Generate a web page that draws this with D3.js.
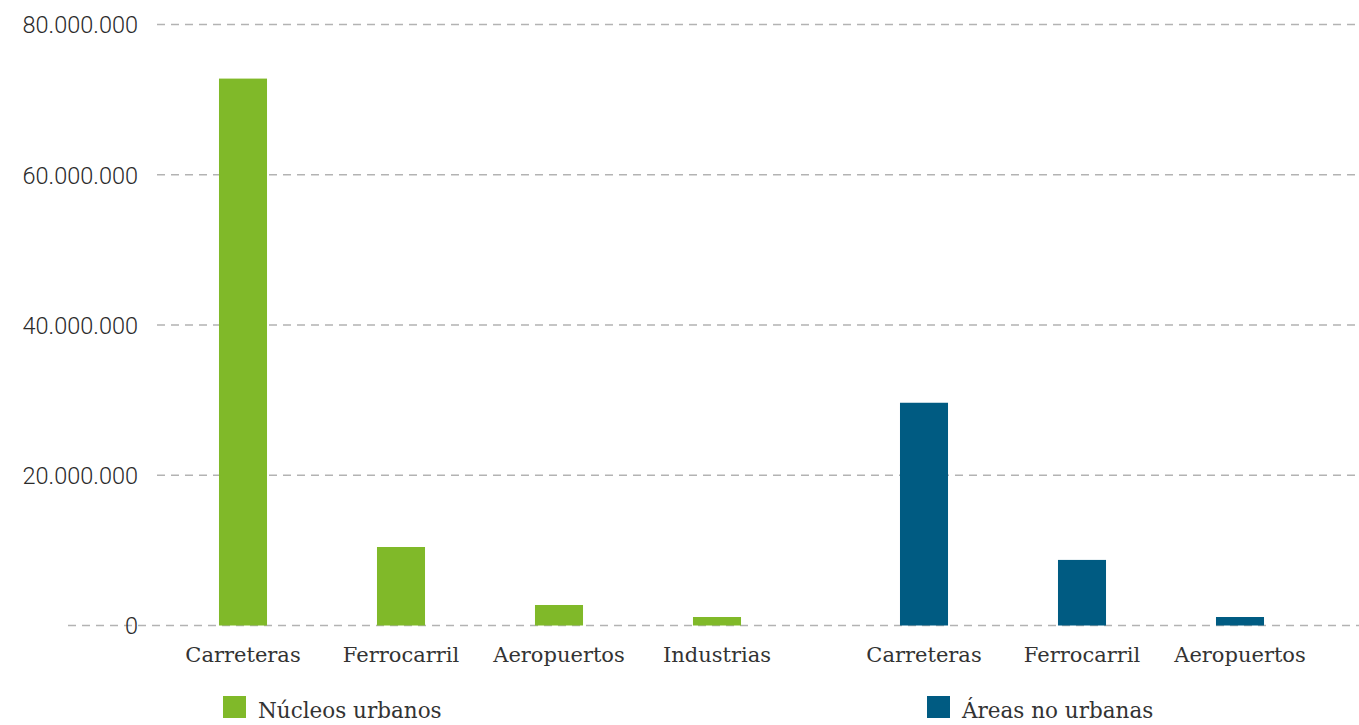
<!DOCTYPE html>
<html>
<head>
<meta charset="utf-8">
<script src="https://cdn.jsdelivr.net/npm/d3@7"></script>
<style>
  body { margin: 0; background: #fff; }
  .axis text { font-family: Roboto, sans-serif; font-weight: 300; fill: #2b2b2b; }
  .x-axis text, .legend text { font-family: "Roboto Slab", "DejaVu Serif", serif; font-weight: 300; fill: #333; }
  .grid line { stroke: #b3b3b3; stroke-width: 1.5; stroke-dasharray: 8, 6; }
</style>
</head>
<body>
<div id="chart"></div>
<script>
// Datos
var categoriasUrbanas   = ["Carreteras", "Ferrocarril", "Aeropuertos", "Industrias"];
var valoresUrbanos      = [72800000, 10450000, 2730000, 1130000];
var categoriasNoUrbanas = ["Carreteras", "Ferrocarril", "Aeropuertos"];
var valoresNoUrbanos    = [29650000, 8730000, 1130000];
var series              = ["Núcleos urbanos", "Áreas no urbanas"];
var colores             = ["#80b929", "#005b82"];
var ticksY              = [0, 20000000, 40000000, 60000000, 80000000];

var width = 1359, height = 725;

var svg = d3.select("#chart")
  .append("svg")
  .attr("width", width)
  .attr("height", height);

// Escalas
var yScale = d3.scaleLinear()
  .domain([0, 80000000])
  .range([625.5, 24.5]);

var xUrbano = d3.scaleBand()
  .domain(d3.range(categoriasUrbanas.length))
  .range([164, 796])
  .paddingInner(0.696)
  .paddingOuter(0.348);

var xNoUrbano = d3.scaleBand()
  .domain(d3.range(categoriasNoUrbanas.length))
  .range([845, 1319])
  .paddingInner(0.696)
  .paddingOuter(0.348);

var locale = d3.formatLocale({ decimal: ",", thousands: ".", grouping: [3], currency: ["", "€"] });
var fmt = locale.format(",.0f");

// Líneas de referencia
svg.append("g")
  .attr("class", "grid")
  .selectAll("line")
  .data(ticksY)
  .enter().append("line")
  .attr("x1", function(d) { return d === 0 ? 68 : 157; })
  .attr("x2", width)
  .attr("y1", function(d) { return yScale(d); })
  .attr("y2", function(d) { return yScale(d); });

// Eje Y
var yAxis = d3.axisLeft(yScale)
  .tickValues(ticksY)
  .tickSize(0)
  .tickPadding(0)
  .tickFormat(fmt);

svg.append("g")
  .attr("class", "axis y-axis")
  .attr("transform", "translate(138,0)")
  .call(yAxis)
  .call(function(g) { g.select(".domain").remove(); })
  .selectAll("text")
  .style("font-size", "23.5px")
  .attr("dy", "0.36em");

// Barras
function dibujaGrupo(escala, categorias, valores, color, clase) {
  svg.selectAll("." + clase)
    .data(valores)
    .enter().append("rect")
    .attr("class", clase)
    .attr("x", function(d, i) { return escala(i); })
    .attr("y", function(d) { return yScale(d); })
    .attr("width", escala.bandwidth())
    .attr("height", function(d) { return yScale(0) - yScale(d); })
    .attr("fill", color);

  var eje = d3.axisBottom(escala)
    .tickSize(0)
    .tickFormat(function(i) { return categorias[i]; });

  svg.append("g")
    .attr("class", "axis x-axis")
    .attr("transform", "translate(0," + yScale(0) + ")")
    .call(eje)
    .call(function(g) { g.select(".domain").remove(); })
    .selectAll("text")
    .style("font-size", "21px")
    .attr("y", 36.5)
    .attr("dy", 0);
}

dibujaGrupo(xUrbano, categoriasUrbanas, valoresUrbanos, colores[0], "bar-urbano");
dibujaGrupo(xNoUrbano, categoriasNoUrbanas, valoresNoUrbanos, colores[1], "bar-nourbano");

// Leyenda
var posLeyenda = [223, 927];

var leyenda = svg.append("g")
  .attr("class", "legend")
  .selectAll("g")
  .data(series)
  .enter().append("g")
  .attr("transform", function(d, i) { return "translate(" + posLeyenda[i] + ",696)"; });

leyenda.append("rect")
  .attr("width", 23)
  .attr("height", 22)
  .attr("fill", function(d, i) { return colores[i]; });

leyenda.append("text")
  .attr("x", 35)
  .attr("y", 21.5)
  .style("font-size", "21.5px")
  .text(function(d) { return d; });
</script>
</body>
</html>
